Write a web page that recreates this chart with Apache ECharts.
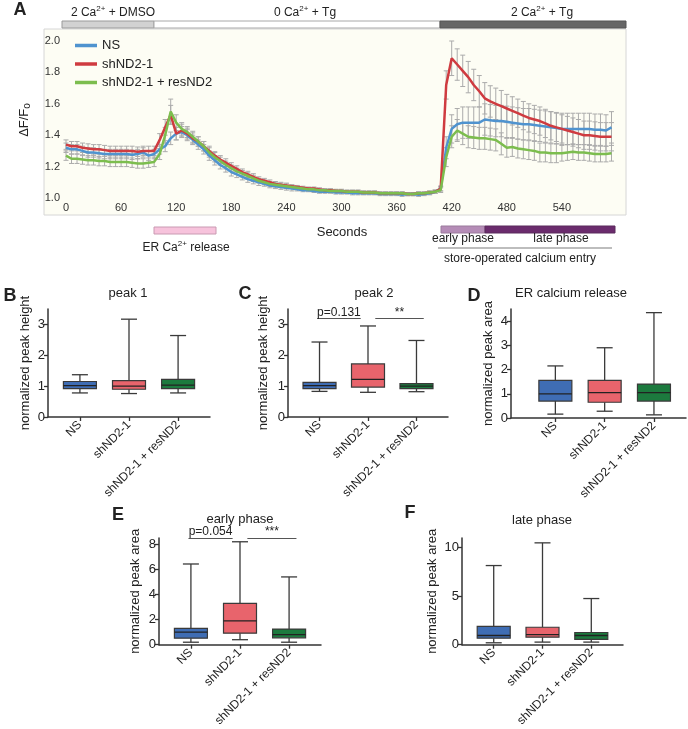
<!DOCTYPE html>
<html><head><meta charset="utf-8">
<script src="https://cdn.jsdelivr.net/npm/echarts/dist/echarts.min.js"></script>
<style>html,body{margin:0;padding:0;background:#fff}#c{width:688px;height:729px}</style>
</head><body><div id="c"></div><script>
// ---------- Panel A data (time in seconds, mean and SEM) ----------
const timeSec = [0,6,12,18,24,30,36,42,48,54, 60,66,72,78,84,90,96,102,108,114, 120,126,132,138,144,150,156,162,168,174, 180,186,192,198,204,210,216,222,228,234, 240,246,252,258,264,270,276,282,288,294, 300,306,312,318,324,330,336,342,348,354, 360,366,372,378,384,390,396,402,408,414, 420,426,432,438,444,450,456,462,468,474, 480,486,492,498,504,510,516,522,528,534, 540,546,552,558,564,570,576,582,588,594];
const nsMean = [1.32,1.31,1.31,1.30,1.29,1.29,1.285,1.28,1.28,1.28, 1.28,1.28,1.275,1.28,1.29,1.27,1.28,1.31,1.33,1.38, 1.41,1.42,1.40,1.37,1.34,1.31,1.27,1.24,1.21,1.19, 1.165,1.15,1.135,1.12,1.11,1.10,1.09,1.08,1.075,1.07, 1.065,1.06,1.055,1.05,1.05,1.045,1.04,1.04,1.04,1.035, 1.035,1.035,1.03,1.03,1.03,1.03,1.03,1.025,1.025,1.025, 1.025,1.02,1.025,1.025,1.02,1.025,1.03,1.04,1.06,1.32, 1.44,1.47,1.48,1.48,1.48,1.48,1.50,1.495,1.49,1.49, 1.485,1.48,1.475,1.47,1.47,1.465,1.46,1.455,1.45,1.445, 1.44,1.44,1.44,1.44,1.44,1.44,1.435,1.435,1.43,1.45];
const shMean = [1.34,1.33,1.33,1.32,1.315,1.31,1.31,1.305,1.30,1.30, 1.30,1.30,1.30,1.295,1.30,1.30,1.30,1.37,1.45,1.53, 1.41,1.43,1.41,1.38,1.36,1.33,1.30,1.27,1.245,1.225, 1.205,1.185,1.165,1.15,1.135,1.12,1.11,1.10,1.09,1.085, 1.08,1.075,1.07,1.065,1.06,1.06,1.055,1.05,1.05,1.045, 1.045,1.04,1.04,1.04,1.035,1.035,1.035,1.03,1.03,1.03, 1.03,1.03,1.025,1.025,1.03,1.03,1.035,1.04,1.06,1.72, 1.89,1.85,1.81,1.77,1.72,1.68,1.635,1.615,1.60,1.585, 1.57,1.555,1.54,1.525,1.51,1.50,1.49,1.475,1.46,1.45, 1.44,1.43,1.42,1.41,1.40,1.40,1.395,1.39,1.39,1.39];
const resMean = [1.27,1.25,1.25,1.245,1.24,1.24,1.235,1.235,1.23,1.23, 1.23,1.23,1.225,1.22,1.22,1.225,1.23,1.28,1.40,1.55, 1.48,1.44,1.42,1.39,1.36,1.33,1.29,1.26,1.235,1.21, 1.19,1.17,1.155,1.14,1.125,1.11,1.10,1.09,1.085,1.08, 1.075,1.07,1.065,1.06,1.055,1.055,1.05,1.05,1.045,1.045, 1.045,1.04,1.04,1.04,1.035,1.035,1.035,1.03,1.03,1.03, 1.03,1.03,1.025,1.025,1.03,1.03,1.035,1.04,1.05,1.26, 1.39,1.43,1.41,1.39,1.385,1.38,1.38,1.375,1.37,1.345, 1.32,1.325,1.315,1.31,1.305,1.30,1.29,1.29,1.285,1.285, 1.285,1.29,1.295,1.29,1.29,1.285,1.28,1.28,1.28,1.285];
const nsErr = [.03,.03,.03,.03,.03,.03,.03,.03,.03,.03, .03,.03,.03,.03,.03,.03,.03,.03,.035,.04, .04,.035,.035,.03,.03,.03,.03,.03,.025,.025, .025,.02,.02,.02,.02,.02,.015,.015,.015,.015, .015,.015,.01,.01,.01,.01,.01,.01,.01,.01, .01,.01,.01,.01,.01,.01,.01,.01,.01,.01, .01,.01,.01,.01,.01,.01,.01,.01,.015,.07, .09,.1,.1,.1,.1,.1,.1,.1,.1,.1, .1,.1,.1,.1,.1,.1,.1,.1,.1,.1, .1,.1,.1,.1,.1,.1,.1,.1,.1,.1];
const shErr = [.03,.03,.03,.03,.03,.03,.03,.03,.03,.03, .03,.03,.03,.03,.03,.03,.03,.04,.05,.06, .04,.04,.035,.035,.03,.03,.03,.025,.025,.025, .02,.02,.02,.02,.02,.015,.015,.015,.015,.015, .015,.01,.01,.01,.01,.01,.01,.01,.01,.01, .01,.01,.01,.01,.01,.01,.01,.01,.01,.01, .01,.01,.01,.01,.01,.01,.01,.01,.015,.09, .11,.1,.1,.1,.1,.1,.1,.1,.1,.1, .09,.09,.09,.09,.09,.09,.09,.09,.09,.09, .09,.09,.09,.09,.09,.09,.09,.09,.09,.09];
const resErr = [.03,.03,.03,.03,.03,.03,.03,.03,.03,.03, .03,.03,.03,.03,.03,.03,.03,.035,.05,.08, .05,.04,.035,.035,.03,.03,.03,.03,.025,.025, .02,.02,.02,.02,.02,.015,.015,.015,.015,.015, .015,.01,.01,.01,.01,.01,.01,.01,.01,.01, .01,.01,.01,.01,.01,.01,.01,.01,.01,.01, .01,.01,.01,.01,.01,.01,.01,.01,.015,.06, .07,.07,.07,.07,.07,.07,.07,.07,.07,.07, .06,.06,.06,.06,.06,.06,.06,.06,.06,.06, .05,.05,.05,.05,.05,.05,.05,.05,.05,.05];
const seriesNames = ['NS','shND2-1','shND2-1 + resND2'];
const xTicksA = [0,60,120,180,240,300,360,420,480,540];
const yTicksA = [1.0,1.2,1.4,1.6,1.8,2.0];

// ---------- Box plot data: [min, Q1, median, Q3, max] ----------
const categories = ['NS','shND2-1','shND2-1 + resND2'];
const peak1 = [[0.78,0.92,1.02,1.15,1.37],[0.76,0.90,1.00,1.18,3.17],[0.78,0.92,1.03,1.22,2.64]];
const peak2 = [[0.83,0.92,1.02,1.12,2.43],[0.80,0.97,1.22,1.72,2.95],[0.82,0.92,1.00,1.08,2.48]];
const erRelease = [[0.16,0.70,1.00,1.55,2.15],[0.28,0.65,1.05,1.55,2.90],[0.13,0.70,1.05,1.40,4.35]];
const earlyPhase = [[0.20,0.52,1.00,1.30,6.43],[0.40,0.92,1.90,3.30,8.20],[0.20,0.55,0.80,1.25,5.40]];
const latePhase = [[0.20,0.68,0.95,1.90,8.16],[0.27,0.78,1.05,1.80,10.5],[0.27,0.55,0.95,1.26,4.76]];
const ticksB = [0,1,2,3], ticksD = [0,1,2,3,4], ticksE = [0,2,4,6,8], ticksF = [0,5,10];
const sigC = [['p=0.131',3.2],['**',3.2]];
const sigE = [['p=0.054',8.5],['***',8.5]];

const FONT = '"Liberation Sans", Arial, Helvetica, sans-serif';
const lineColors = ['#4f93cf','#cf3b40','#7cbd4e'];
const boxColors = ['#3f6db4','#e8646c','#1c7a3e'];

const chart = echarts.init(document.getElementById('c'));

function boxRender(params, api){
  const x = api.value(0);
  const pMin=api.coord([x,api.value(1)]), pQ1=api.coord([x,api.value(2)]), pMd=api.coord([x,api.value(3)]),
        pQ3=api.coord([x,api.value(4)]), pMax=api.coord([x,api.value(5)]);
  const cx = pMin[0], hw = 16.5, cw = 8;
  const ls = {stroke:'#3a3a3a', lineWidth:1.3};
  return {type:'group', children:[
    {type:'line', shape:{x1:cx,y1:pMax[1],x2:cx,y2:pQ3[1]}, style:ls},
    {type:'line', shape:{x1:cx,y1:pQ1[1],x2:cx,y2:pMin[1]}, style:ls},
    {type:'line', shape:{x1:cx-cw,y1:pMax[1],x2:cx+cw,y2:pMax[1]}, style:ls},
    {type:'line', shape:{x1:cx-cw,y1:pMin[1],x2:cx+cw,y2:pMin[1]}, style:ls},
    {type:'rect', shape:{x:cx-hw,y:pQ3[1],width:2*hw,height:pQ1[1]-pQ3[1]}, style:{fill:boxColors[params.dataIndex], stroke:'#3a3a3a', lineWidth:1.2}},
    {type:'line', shape:{x1:cx-hw,y1:pMd[1],x2:cx+hw,y2:pMd[1]}, style:{stroke:'#222', lineWidth:1.3}}
  ]};
}
function errRender(params, api){
  const t = api.value(0);
  const lo = api.coord([t, api.value(1)]), hi = api.coord([t, api.value(2)]);
  const st = {stroke:'#ababab', lineWidth:1};
  return {type:'group', children:[
    {type:'line', shape:{x1:lo[0],y1:lo[1],x2:hi[0],y2:hi[1]}, style:st},
    {type:'line', shape:{x1:lo[0]-2.5,y1:lo[1],x2:lo[0]+2.5,y2:lo[1]}, style:st},
    {type:'line', shape:{x1:hi[0]-2.5,y1:hi[1],x2:hi[0]+2.5,y2:hi[1]}, style:st}
  ]};
}

const grids = [
  {left:66, top:41, width:551, height:157},
  {left:48, top:309, width:162, height:108},
  {left:288, top:309, width:160, height:108},
  {left:511, top:309, width:175, height:109},
  {left:159, top:538, width:162, height:108},
  {left:462, top:538, width:161, height:108}
];
const axisCol = '#333';
function boxX(gi, min){
  return {gridIndex:gi, type:'value', min:min, max:2.65,
    axisLine:{show:true, onZero:false, lineStyle:{color:axisCol, width:1.5}},
    axisTick:{show:true, customValues:[0,1,2], length:4, lineStyle:{color:axisCol, width:1.3}},
    axisLabel:{customValues:[0,1,2], formatter:v=>categories[Math.round(v)], rotate:45, fontSize:12, margin:6, color:'#222', fontFamily:FONT},
    splitLine:{show:false}};
}
function boxY(gi, max, interval, ticks, name, gap){
  return {gridIndex:gi, type:'value', min:0, max:max, interval:interval,
    axisLine:{show:true, onZero:false, lineStyle:{color:axisCol, width:1.5}},
    axisTick:{show:true, customValues:ticks, length:4, lineStyle:{color:axisCol, width:1.3}},
    axisLabel:{customValues:ticks, fontSize:13, margin:3, color:'#222', fontFamily:FONT},
    splitLine:{show:false}, name:name, nameLocation:'middle', nameGap:gap,
    nameTextStyle:{fontSize:13, color:'#222', fontFamily:FONT}};
}
function sigLines(sig){
  const y1 = sig[0][1], y2 = sig[1][1];
  return {symbol:'none', silent:true, animation:false,
    lineStyle:{color:'#555', width:1, type:'solid'},
    label:{show:true, position:'middle', formatter:'{b}', fontSize:12, color:'#222', distance:0, fontFamily:FONT},
    emphasis:{disabled:true},
    data:[[{name:sig[0][0], coord:[-0.05,y1]},{coord:[0.85,y1]}],
          [{name:sig[1][0], coord:[1.15,y2]},{coord:[2.15,y2]}]]};
}
function boxSeries(gi, data, sig){
  const s = {type:'custom', xAxisIndex:gi, yAxisIndex:gi, renderItem:boxRender,
    encode:{x:0, y:[1,2,3,4,5]}, data:data.map((v,i)=>[i].concat(v)), z:3, silent:true};
  if (sig) s.markLine = sigLines(sig);
  return s;
}

const meansA = [nsMean, shMean, resMean], errsA = [nsErr, shErr, resErr];
const seriesA = [];
meansA.forEach((m,k)=>{
  seriesA.push({type:'custom', name:seriesNames[k]+' err', xAxisIndex:0, yAxisIndex:0, renderItem:errRender,
    encode:{x:0, y:[1,2]}, data:timeSec.map((t,i)=>[t, m[i]-errsA[k][i], m[i]+errsA[k][i]]), z:1, silent:true});
});
meansA.forEach((m,k)=>{
  seriesA.push({type:'line', name:seriesNames[k], xAxisIndex:0, yAxisIndex:0, data:timeSec.map((t,i)=>[t,m[i]]),
    showSymbol:false, symbol:'none', lineStyle:{width:2.5, color:lineColors[k]}, itemStyle:{color:lineColors[k]}, z:3, silent:true});
});

function txt(x,y,text,size,opt){
  opt = opt || {};
  return {type:'text', x:x, y:y, rotation:opt.rotation||0, z:10, silent:true,
    style:Object.assign({text:text, fill:'#222', font:(opt.bold?'bold ':'')+size+'px '+FONT,
      align:'center', textAlign:'center', verticalAlign:'middle', textVerticalAlign:'middle'}, opt.style||{})};
}
const supRich = {
  a:{fontSize:12, fontFamily:FONT, fill:'#222', lineHeight:16},
  s:{fontSize:8, fontFamily:FONT, fill:'#222', verticalAlign:'top', lineHeight:16}
};
function supTxt(x,y,text){
  return {type:'text', x:x, y:y, z:10, silent:true,
    style:{text:text, rich:supRich, font:'12px '+FONT, fill:'#222', align:'center', textAlign:'center', verticalAlign:'middle', textVerticalAlign:'middle'}};
}
function rect(x,y,w,h,fill,stroke,z){
  return {type:'rect', shape:{x:x,y:y,width:w,height:h}, z:z===undefined?5:z, silent:true, style:{fill:fill, stroke:stroke, lineWidth:1}};
}

const graphics = [
  rect(44,29,582,186,'#fdfdf4','#d6d6d6',-1),
  rect(62,21,92,7,'#d2d2d2','#9a9a9a'),
  rect(154,21,286,7,'#ffffff','#a8a8a8'),
  rect(440,21,186,7,'#666666','#555555'),
  txt(20,10,'A',18,{bold:true}),
  supTxt(113,13,'{a|2 Ca}{s|2+}{a| + DMSO}'),
  supTxt(305,13,'{a|0 Ca}{s|2+}{a| + Tg}'),
  supTxt(542,13,'{a|2 Ca}{s|2+}{a| + Tg}'),
  {type:'text', x:24, y:120, rotation:Math.PI/2, z:10, silent:true,
    style:{text:'{a|ΔF/F}{o|o}', rich:{a:{fontSize:13, fontFamily:FONT, fill:'#222', lineHeight:16}, o:{fontSize:10, fontFamily:FONT, fill:'#222', verticalAlign:'bottom', lineHeight:16}},
      align:'center', textAlign:'center', verticalAlign:'middle', textVerticalAlign:'middle'}},
  rect(154,227,62,7,'#f7c3dc','#c99ab2'),
  supTxt(186,248,'{a|ER Ca}{s|2+}{a| release}'),
  txt(342,232,'Seconds',13),
  rect(441,226,44,7,'#b58cb7','#9a7a9c'),
  rect(485,226,130,7,'#6b2b6d','#5a2a5c'),
  txt(463,239,'early phase',12),
  txt(561,239,'late phase',12),
  {type:'line', shape:{x1:438,y1:248,x2:612,y2:248}, z:5, silent:true, style:{stroke:'#bdbdbd', lineWidth:2}},
  txt(520,259,'store-operated calcium entry',12),
  txt(10,296,'B',18,{bold:true}),
  txt(245,294,'C',18,{bold:true}),
  txt(474,296,'D',18,{bold:true}),
  txt(118,515,'E',18,{bold:true}),
  txt(410,513,'F',18,{bold:true}),
  txt(128,293,'peak 1',13),
  txt(374,293,'peak 2',13),
  txt(571,293,'ER calcium release',13),
  txt(240,519,'early phase',13),
  txt(542,520,'late phase',13)
];

const option = {
  animation:false,
  textStyle:{fontFamily:FONT},
  grid:grids,
  legend:{data:seriesNames, orient:'vertical', left:70, top:33, icon:'rect', itemWidth:22, itemHeight:3.5, itemGap:3.5,
    selectedMode:false, textStyle:{fontSize:13, color:'#222', lineHeight:15, fontFamily:FONT}},
  xAxis:[
    {gridIndex:0, type:'value', min:0, max:600, interval:60, axisLine:{show:false}, axisTick:{show:false},
      axisLabel:{customValues:xTicksA, fontSize:11, margin:4, color:'#333', fontFamily:FONT}, splitLine:{show:false}},
    boxX(1,-0.65), boxX(2,-0.65), boxX(3,-0.9), boxX(4,-0.65), boxX(5,-0.65)
  ],
  yAxis:[
    {gridIndex:0, type:'value', min:1.0, max:2.0, interval:0.2, axisLine:{show:false}, axisTick:{show:false},
      axisLabel:{customValues:yTicksA, formatter:v=>v.toFixed(1), fontSize:11, margin:6, color:'#333', fontFamily:FONT}, splitLine:{show:false}},
    boxY(1,3.5,1,ticksB,'normalized peak height',16),
    boxY(2,3.5,1,ticksB,'normalized peak height',18),
    boxY(3,4.5,1,ticksD,'normalized peak area',16),
    boxY(4,8.5,2,ticksE,'normalized peak area',17),
    boxY(5,11,5,ticksF,'normalized peak area',23)
  ],
  series: seriesA.concat([
    boxSeries(1, peak1),
    boxSeries(2, peak2, sigC),
    boxSeries(3, erRelease),
    boxSeries(4, earlyPhase, sigE),
    boxSeries(5, latePhase)
  ]),
  graphic:{elements:graphics}
};
chart.setOption(option);
</script></body></html>
